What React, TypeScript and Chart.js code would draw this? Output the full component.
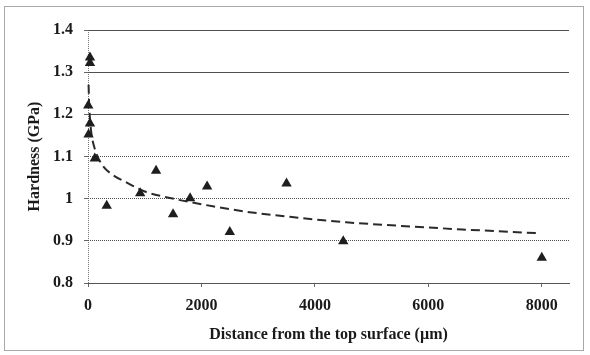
import React, { useEffect, useRef } from "react";
import { Chart, registerables } from "chart.js";

Chart.register(...registerables);

const hardnessX = [35, 35, 5, 35, 10, 120, 330, 920, 1200, 1500, 1800, 2100, 2500, 3500, 4500, 8000];
const hardnessY = [1.335, 1.322, 1.221, 1.178, 1.152, 1.095, 0.983, 1.013, 1.066, 0.963, 1.001, 1.029, 0.921, 1.036, 0.899, 0.86];

const trendX = [10, 20, 35, 60, 120, 250, 420, 700, 1000, 1400, 1830, 2200, 2850, 3700, 4550, 5450, 6600, 7950];
const trendY = [1.27, 1.225, 1.19, 1.155, 1.118, 1.08, 1.058, 1.037, 1.017, 1.003, 0.991, 0.982, 0.968, 0.955, 0.944, 0.936, 0.927, 0.918];

const xTicks = [0, 2000, 4000, 6000, 8000];
const yTicks = [0.8, 0.9, 1.0, 1.1, 1.2, 1.3, 1.4];
const dottedY = [0.9, 1.0, 1.1];

const xTitle = "Distance from the top surface (\u00b5m)";
const yTitle = "Hardness (GPa)";

const FONT = "'Liberation Serif', 'Times New Roman', serif";

export default function App() {
  const ref = useRef<HTMLCanvasElement | null>(null);

  useEffect(() => {
    document.body.style.margin = "0";
    const canvas = ref.current;
    if (!canvas) return;
    const chart = new Chart(canvas, {
      type: "scatter",
      data: {
        datasets: [
          {
            label: "trend",
            type: "line",
            data: trendX.map((x, i) => ({ x, y: trendY[i] })),
            borderColor: "#2a2a2a",
            borderWidth: 2,
            borderDash: [9, 5],
            pointRadius: 0,
            fill: false,
            cubicInterpolationMode: "monotone",
            clip: false as any,
            order: 2,
          },
          {
            label: "hardness",
            data: hardnessX.map((x, i) => ({ x, y: hardnessY[i] })),
            pointStyle: "triangle",
            pointRadius: 6,
            backgroundColor: "#1e1e1e",
            borderColor: "#1e1e1e",
            borderWidth: 0,
            showLine: false,
            clip: false as any,
            order: 1,
          },
        ],
      },
      options: {
        animation: false,
        responsive: false,
        events: [],
        layout: { padding: { left: 0, top: 30, right: 21, bottom: 0 } },
        plugins: {
          legend: { display: false },
          tooltip: { enabled: false },
        },
        scales: {
          x: {
            type: "linear",
            min: 0,
            max: 8480,
            afterBuildTicks: (s: any) => {
              s.ticks = xTicks.map((v) => ({ value: v }));
            },
            afterFit: (s: any) => {
              s.height = 72;
            },
            ticks: {
              color: "#1a1a1a",
              font: { family: FONT, size: 16, weight: "bold" },
              padding: 9,
              maxRotation: 0,
              callback: (v: any) => String(v),
            },
            grid: {
              drawOnChartArea: true,
              drawTicks: true,
              tickLength: 4,
              color: (c: any) => (c.tick && c.tick.value === 0 ? "#777" : "rgba(0,0,0,0)"),
              tickColor: "#666",
              lineWidth: 1,
            },
            border: {
              display: true,
              color: "#555",
              width: 1,
              dash: (c: any) => (c.tick && c.tick.value === 0 ? [1, 1] : []),
            } as any,
            title: {
              display: true,
              text: xTitle,
              color: "#1a1a1a",
              font: { family: FONT, size: 16, weight: "bold" },
              padding: { top: 0, bottom: 11 },
            },
          },
          y: {
            type: "linear",
            min: 0.8,
            max: 1.4,
            afterBuildTicks: (s: any) => {
              s.ticks = yTicks.map((v) => ({ value: v }));
            },
            afterFit: (s: any) => {
              s.width = 88;
            },
            ticks: {
              color: "#1a1a1a",
              font: { family: FONT, size: 16, weight: "bold" },
              padding: 11,
              callback: (v: any) => String(Number(Number(v).toFixed(1))),
            },
            grid: {
              drawTicks: true,
              tickLength: 4,
              color: "#505050",
              tickColor: "#666",
              lineWidth: 1,
            },
            border: {
              display: false,
              dash: (c: any) =>
                c.tick && dottedY.some((d) => Math.abs(d - c.tick.value) < 1e-6) ? [1, 1] : [],
            } as any,
            title: {
              display: true,
              text: yTitle,
              color: "#1a1a1a",
              font: { family: FONT, size: 16, weight: "bold" },
              padding: { top: 25, bottom: 0 },
            },
          },
        },
      } as any,
    });
    return () => chart.destroy();
  }, []);

  return (
    <div style={{ position: "relative", width: 590, height: 355, background: "#fff" }}>
      <div
        style={{
          position: "absolute",
          left: 4,
          top: 6,
          width: 580,
          height: 345,
          border: "1px solid #a8a8a8",
          boxSizing: "border-box",
        }}
      />
      <canvas
        ref={ref}
        width={590}
        height={355}
        style={{ position: "absolute", left: 0, top: 0, width: 590, height: 355 }}
      />
    </div>
  );
}
